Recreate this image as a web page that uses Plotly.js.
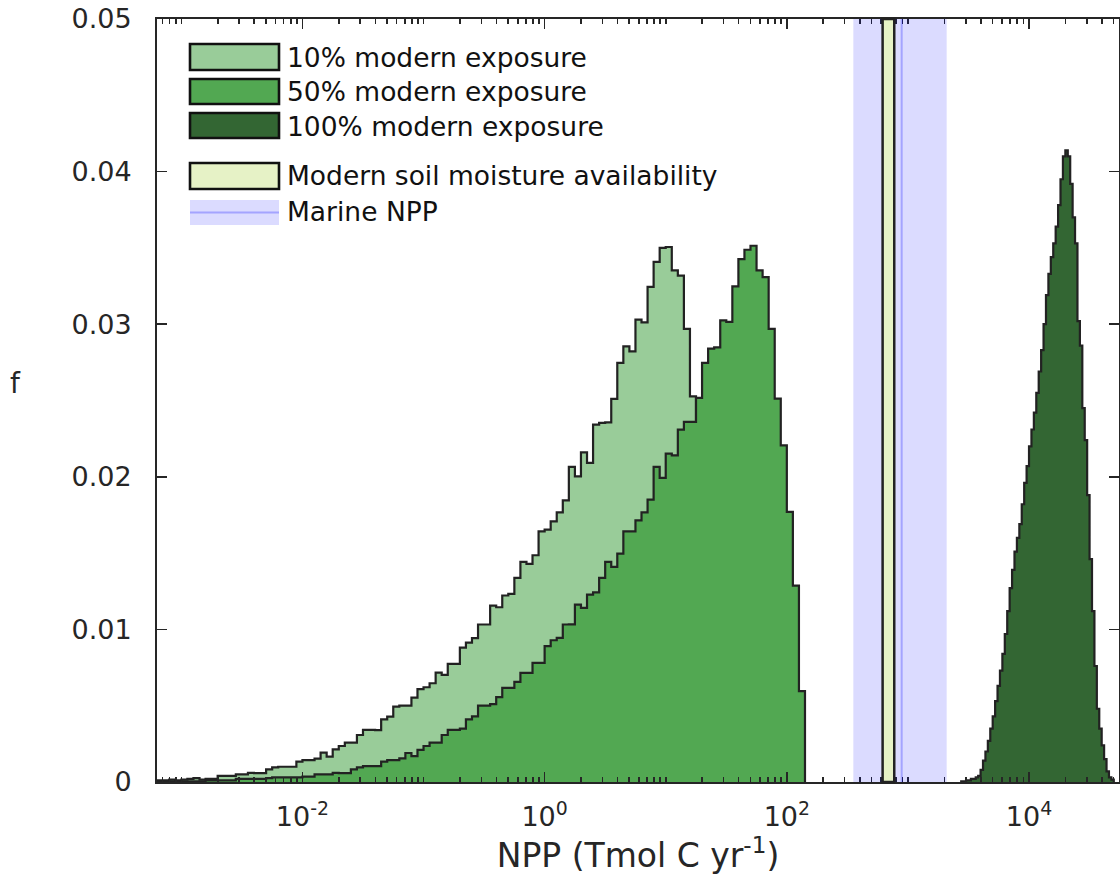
<!DOCTYPE html>
<html><head><meta charset="utf-8">
<script src="https://cdn.plot.ly/plotly-3.0.1.min.js"></script>
<style>html,body{margin:0;padding:0;background:#fff}#chart{width:1120px;height:886px}</style>
</head><body><div id="chart"></div>
<script>
// Histogram bins (log10 of NPP, Tmol C / yr)
const binStartLog10 = -3.2;
const binWidthLog10 = 0.05;
const exposure10 = [
 0.0001,0.0001,0.00015,0.0001,0.00015,0.0002,0.00025,0.00015,0.0002,0.0002,
 0.0004,0.0004,0.0004,0.0005,0.0005,0.0006,0.00058,0.00058,0.00083,0.00096,
 0.001,0.001,0.001,0.00133,0.00144,0.00144,0.00153,0.00192,0.00166,0.00214,
 0.00236,0.00258,0.00258,0.00308,0.00341,0.00341,0.0034,0.00411,0.00428,0.00494,
 0.005,0.005,0.00553,0.00608,0.00621,0.00647,0.00717,0.00702,0.00774,0.00774,
 0.0088,0.00913,0.00943,0.01032,0.01032,0.01156,0.01145,0.01222,0.01233,0.01338,
 0.01442,0.01429,0.01486,0.01643,0.01654,0.01708,0.01767,0.01846,0.02065,0.02003,
 0.0216,0.02091,0.02342,0.02353,0.02357,0.0251,0.02746,0.02855,0.02822,0.0303,
 0.03012,0.03244,0.03408,0.035,0.03506,0.03353,0.03318,0.02969,0.02527,0.0221,
 0.0177,0.0129,0.006
];
const exposure50 = [
 0.00005,0.00005,0.00005,0.00005,0.00005,0.00005,0.00005,0.00005,0.0001,0.0001,
 0.0001,0.0001,0.0001,0.0002,0.0002,0.0002,0.0002,0.0002,0.00025,0.0003,
 0.0003,0.0003,0.0003,0.0003,0.00035,0.00035,0.0005,0.0005,0.0005,0.0006,
 0.00058,0.00058,0.00083,0.00096,0.00104,0.00104,0.00104,0.00133,0.00144,0.00144,
 0.00155,0.0019,0.0017,0.0021,0.00236,0.00258,0.00258,0.00308,0.00341,0.00341,
 0.0035,0.0041,0.0043,0.005,0.005,0.0051,0.00556,0.00617,0.00617,0.00656,
 0.00715,0.00715,0.00781,0.0078,0.0089,0.00929,0.00944,0.01032,0.01033,0.01163,
 0.01141,0.01228,0.01243,0.01338,0.01442,0.0141,0.01497,0.01643,0.01643,0.01715,
 0.01767,0.0185,0.02065,0.01993,0.02152,0.0214,0.02309,0.0236,0.0236,0.02517,
 0.02746,0.0284,0.02848,0.03025,0.03015,0.03248,0.03427,0.03488,0.03514,0.03353,
 0.03309,0.02969,0.02512,0.02206,0.0177,0.01287,0.00595
];
const exposure100StartLog10 = 3.44;
const exposure100BinWidthLog10 = 0.02;
const exposure100 = [
 0.00005,0.00005,0.0001,0.0001,0.0002,0.0002,0.0003,0.0004,
 0.0008,0.0014,0.002,0.0027,0.0035,0.0043,0.0053,0.0063,0.0073,0.0084,
 0.0097,0.0112,0.0127,0.0139,0.0151,0.016,0.0169,0.0182,0.0196,0.0207,
 0.022,0.0231,0.0242,0.0255,0.0269,0.0283,0.03,0.0319,0.0333,0.0344,
 0.0353,0.0364,0.0378,0.0395,0.041,0.0414,0.041,0.0392,0.037,0.0353,
 0.0302,0.0286,0.0245,0.0224,0.0188,0.0146,0.0112,0.0076,0.0048,0.0035,
 0.0024,0.0015,0.0007,0.0003,0.00015
];
const soilMoistureRange = [618, 771];
const marineNPPRange = [354, 2089];
const marineNPPValue = [888];
const seriesNames = ['10% modern exposure','50% modern exposure','100% modern exposure',
                     'Modern soil moisture availability','Marine NPP'];
const seriesColors = ['#99CC99','#52A852','#336633','#E6F2C6'];
const xTickVals = [1e-2, 1, 1e2, 1e4];
const xTickText = ['10<sup>-2</sup>','10<sup>0</sup>','10<sup>2</sup>','10<sup>4</sup>'];
const yTickVals = [0, 0.01, 0.02, 0.03, 0.04, 0.05];
const yTickText = ['0','0.01','0.02','0.03','0.04','0.05'];

const FONT = 'DejaVu Sans, Verdana, sans-serif';
const INK = '#262626';
const EDGE = '#222222';

function stepTrace(startLog, width, vals, fillcolor, name) {
  const x = [], y = [];
  const edge = i => Math.pow(10, startLog + width * i);
  x.push(edge(0)); y.push(0);
  for (let i = 0; i < vals.length; i++) { x.push(edge(i)); y.push(vals[i]); }
  x.push(edge(vals.length)); y.push(vals[vals.length - 1]);
  x.push(edge(vals.length)); y.push(0);
  return {type:'scatter', mode:'lines', x:x, y:y, name:name, fill:'tozeroy',
          fillcolor:fillcolor, line:{color:EDGE, width:2.2, shape:'hv'},
          hoverinfo:'skip', showlegend:false};
}

const traces = [
  stepTrace(binStartLog10, binWidthLog10, exposure10, seriesColors[0], seriesNames[0]),
  stepTrace(binStartLog10, binWidthLog10, exposure50, seriesColors[1], seriesNames[1]),
  stepTrace(exposure100StartLog10, exposure100BinWidthLog10, exposure100, seriesColors[2], seriesNames[2])
];

// minor log ticks (axis decoration)
const minorVals = [];
for (let k = -4; k <= 4; k++) for (let m = 1; m <= 9; m++) {
  const v = m * Math.pow(10, k);
  if (!(m === 1 && k % 2 === 0)) minorVals.push(v);
}

// plot area in pixels
const L = 157, R = 1119, T = 19, B = 782;
const px = v => (v - L) / (R - L);
const py = v => (B - v) / (B - T);

const shapes = [
  {type:'rect', xref:'x', yref:'paper', x0:marineNPPRange[0], x1:marineNPPRange[1], y0:0, y1:1,
   fillcolor:'rgba(0,0,255,0.14)', line:{width:0}, layer:'above'},
  {type:'line', xref:'x', yref:'paper', x0:marineNPPValue[0], x1:marineNPPValue[0], y0:0, y1:1,
   line:{color:'rgba(0,0,255,0.25)', width:2}, layer:'above'},
  {type:'rect', xref:'x', yref:'paper', x0:soilMoistureRange[0], x1:soilMoistureRange[1], y0:0, y1:1,
   fillcolor:seriesColors[3], line:{color:EDGE, width:2.5}, layer:'above'}
];
const annotations = [];
// custom legend
const LEGFONT = 26.5;
const legRows = [
  {y0:44, y1:70, fill:seriesColors[0], ty:57},
  {y0:79, y1:104, fill:seriesColors[1], ty:92},
  {y0:113, y1:138, fill:seriesColors[2], ty:126},
  {y0:163, y1:189, fill:seriesColors[3], ty:176}
];
legRows.forEach((r, i) => {
  shapes.push({type:'rect', xref:'paper', yref:'paper', x0:px(190), x1:px(279), y0:py(r.y1), y1:py(r.y0),
               fillcolor:r.fill, line:{color:'#111', width:2.6}, layer:'above'});
  annotations.push({xref:'paper', yref:'paper', x:px(285), y:py(r.ty), xanchor:'left', yanchor:'middle',
               text:seriesNames[i], showarrow:false, font:{family:FONT, size:LEGFONT, color:'#111'}});
});
shapes.push({type:'rect', xref:'paper', yref:'paper', x0:px(190), x1:px(279), y0:py(225), y1:py(200),
             fillcolor:'rgba(0,0,255,0.14)', line:{width:0}, layer:'above'});
shapes.push({type:'line', xref:'paper', yref:'paper', x0:px(190), x1:px(279), y0:py(212.5), y1:py(212.5),
             line:{color:'rgba(0,0,255,0.25)', width:2}, layer:'above'});
annotations.push({xref:'paper', yref:'paper', x:px(285), y:py(211), xanchor:'left', yanchor:'middle',
             text:seriesNames[4], showarrow:false, font:{family:FONT, size:LEGFONT, color:'#111'}});
// y-axis label (horizontal, MATLAB-style)
annotations.push({xref:'paper', yref:'paper', x:px(15), y:py(383), xanchor:'center', yanchor:'middle',
             text:'f', showarrow:false, font:{family:FONT, size:28, color:INK}});

const layout = {
  width:1120, height:886,
  margin:{l:L, r:1120 - R, t:T, b:886 - B, pad:0},
  paper_bgcolor:'#fff', plot_bgcolor:'#fff',
  showlegend:false,
  font:{family:FONT, color:INK},
  xaxis:{type:'log', range:[-3.201, 4.743], tickmode:'array', tickvals:xTickVals, ticktext:xTickText,
         ticks:'inside', ticklen:10, tickwidth:1.6, tickcolor:INK,
         showline:true, linecolor:INK, linewidth:2, mirror:'ticks',
         showgrid:false, zeroline:false, fixedrange:true,
         tickfont:{family:FONT, size:27, color:INK}, ticklabelstandoff:10,
         minor:{tickmode:'array', tickvals:minorVals, ticks:'inside', ticklen:5, tickwidth:1.6,
                tickcolor:INK, showgrid:false},
         title:{text:'NPP (Tmol C yr<sup>-1</sup>)', font:{family:FONT, size:33, color:INK}, standoff:10}},
  yaxis:{range:[0, 0.05], tickmode:'array', tickvals:yTickVals, ticktext:yTickText,
         ticks:'inside', ticklen:10, tickwidth:1.6, tickcolor:INK,
         showline:true, linecolor:INK, linewidth:2, mirror:'ticks',
         showgrid:false, zeroline:false, fixedrange:true,
         tickfont:{family:FONT, size:27, color:INK}, ticklabelstandoff:18},
  shapes:shapes, annotations:annotations
};

Plotly.newPlot('chart', traces, layout, {staticPlot:true, displayModeBar:false}).then(function () {
  document.querySelectorAll('#chart text').forEach(function (t) {
    if (!t.textContent || !t.textContent.trim()) t.parentNode.removeChild(t);
  });
});
</script></body></html>
